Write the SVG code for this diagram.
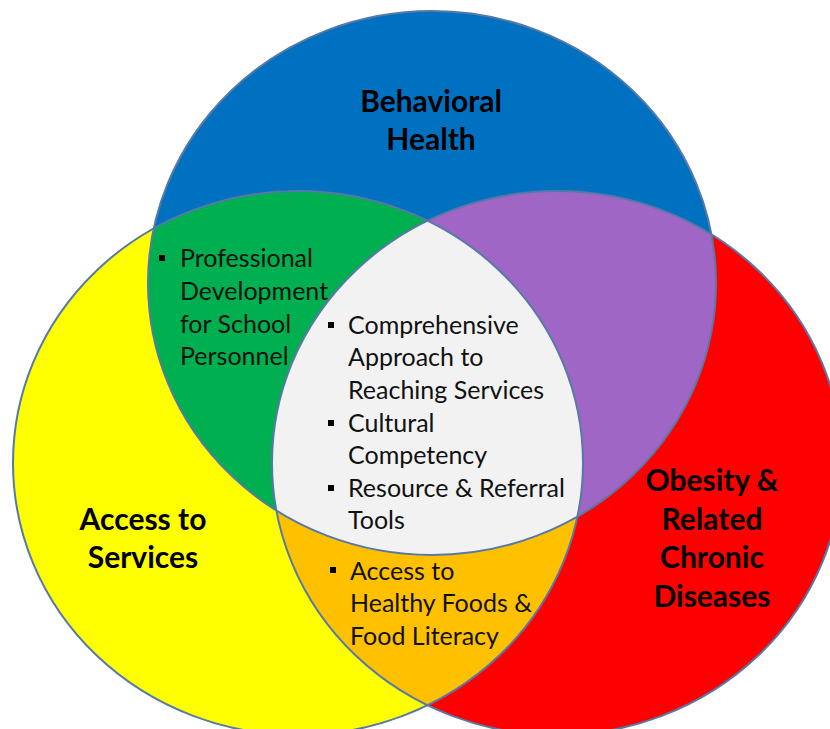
<svg xmlns="http://www.w3.org/2000/svg" xmlns:xlink="http://www.w3.org/1999/xlink" width="830" height="729" viewBox="0 0 830 729">
<style>
.title{font-family:Lato,"Liberation Sans",Arial,sans-serif;font-weight:bold;font-size:30px;fill:#000;text-anchor:middle}
.item{font-family:Lato,"Liberation Sans",Arial,sans-serif;font-size:25px;fill:#111}
.edge{fill:none;stroke:#5679A8;stroke-width:2}
.bullet{fill:#000}
</style>
<defs>
<ellipse id="eB" cx="432" cy="283" rx="284" ry="272"/>
<ellipse id="eY" cx="298" cy="463" rx="285" ry="272"/>
<ellipse id="eR" cx="557" cy="463" rx="285" ry="272"/>
<clipPath id="cB"><ellipse cx="432" cy="283" rx="284" ry="272"/></clipPath>
<clipPath id="cY"><ellipse cx="298" cy="463" rx="285" ry="272"/></clipPath>
</defs>
<rect width="830" height="729" fill="#fff"/>
<g id="access-to-services">
<use xlink:href="#eY" fill="#FFFF00"/>
</g>
<g id="obesity-related-chronic-diseases">
<use xlink:href="#eR" fill="#FF0000"/>
</g>
<g id="behavioral-health">
<use xlink:href="#eB" fill="#0070C0"/>
</g>
<g id="bh-access-overlap">
<use xlink:href="#eY" fill="#00B050" clip-path="url(#cB)"/>
</g>
<g id="bh-obesity-overlap">
<use xlink:href="#eR" fill="#A066C6" clip-path="url(#cB)"/>
</g>
<g id="access-obesity-overlap">
<use xlink:href="#eR" fill="#FFC000" clip-path="url(#cY)"/>
</g>
<g id="center-overlap">
<g clip-path="url(#cB)"><use xlink:href="#eR" fill="#F2F2F2" clip-path="url(#cY)"/></g>
</g>
<g id="outlines">
<use xlink:href="#eY" class="edge"/>
<use xlink:href="#eR" class="edge"/>
<use xlink:href="#eB" class="edge"/>
</g>
<g id="labels-behavioral-health">
<text class="title" x="431" y="112">Behavioral</text>
<text class="title" x="431" y="150">Health</text>
</g>
<g id="labels-access-to-services">
<text class="title" x="143" y="530">Access to</text>
<text class="title" x="143" y="568">Services</text>
</g>
<g id="labels-obesity">
<text class="title" x="712" y="491">Obesity &amp;</text>
<text class="title" x="712" y="530">Related</text>
<text class="title" x="712" y="568">Chronic</text>
<text class="title" x="712" y="607">Diseases</text>
</g>
<g id="labels-bh-access">
<rect class="bullet" x="159" y="255" width="6" height="6"/>
<text class="item" x="180" y="267">Professional</text>
<text class="item" x="180" y="300">Development</text>
<text class="item" x="180" y="333">for School</text>
<text class="item" x="180" y="365">Personnel</text>
</g>
<g id="labels-center">
<rect class="bullet" x="328" y="322" width="6" height="6"/>
<text class="item" x="348" y="334">Comprehensive</text>
<text class="item" x="348" y="366">Approach to</text>
<text class="item" x="348" y="399">Reaching Services</text>
<rect class="bullet" x="328" y="420" width="6" height="6"/>
<text class="item" x="348" y="432">Cultural</text>
<text class="item" x="348" y="464">Competency</text>
<rect class="bullet" x="328" y="485" width="6" height="6"/>
<text class="item" x="348" y="497">Resource &amp; Referral</text>
<text class="item" x="348" y="529">Tools</text>
</g>
<g id="labels-access-obesity">
<rect class="bullet" x="330" y="567" width="6" height="6"/>
<text class="item" x="350" y="580">Access to</text>
<text class="item" x="350" y="612">Healthy Foods &amp;</text>
<text class="item" x="350" y="645">Food Literacy</text>
</g>
</svg>
